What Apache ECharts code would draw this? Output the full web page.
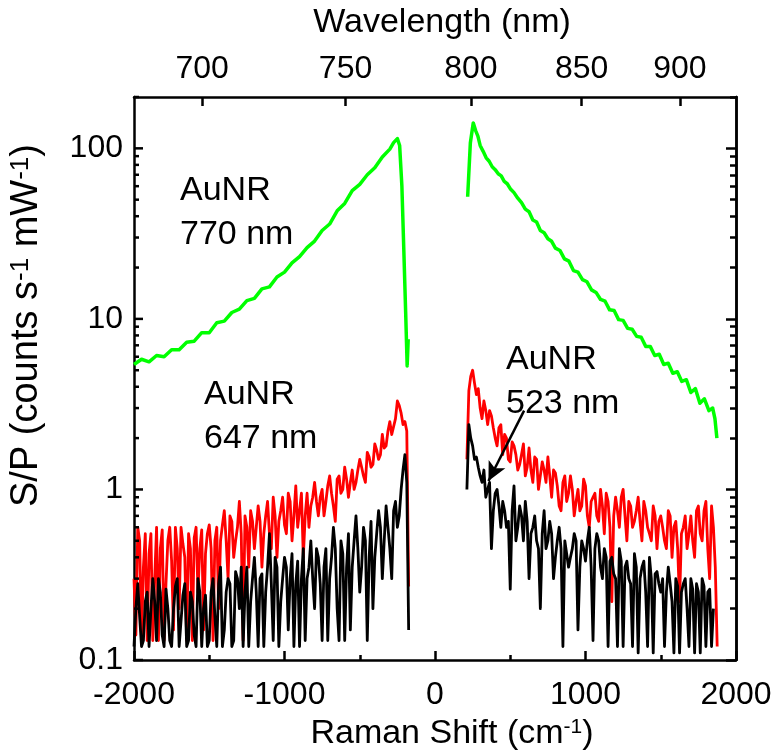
<!DOCTYPE html>
<html><head><meta charset="utf-8">
<script src="https://cdn.jsdelivr.net/npm/echarts@6/dist/echarts.min.js"></script>
<style>html,body{margin:0;padding:0;background:#fff}#c{width:777px;height:756px}</style>
</head><body><div id="c"></div><script>
const FONT = 'Liberation Sans, Arial, Helvetica, sans-serif';

// axis ticks / labels
const yMajorTicks = [0.1, 1, 10, 100];
const yMinorTicks = [0.2,0.3,0.4,0.5,0.6,0.7,0.8,0.9,2,3,4,5,6,7,8,9,20,30,40,50,60,70,80,90,200];
const wavelengthTicks = [700, 750, 800, 850, 900];
const excitationNm = 785;

// Raman-shift sample positions for the noisy red/black spectra
const leftGrid = [-2000,-1975,-1950,-1925,-1900,-1875,-1850,-1825,-1800,-1775,
-1750,-1725,-1700,-1675,-1650,-1625,-1600,-1575,-1550,-1525,
-1500,-1475,-1450,-1425,-1400,-1375,-1350,-1325,-1300,-1275,
-1250,-1225,-1200,-1175,-1150,-1125,-1100,-1075,-1050,-1025,
-1000,-975,-950,-925,-900,-875,-850,-825,-800,-775,
-750,-725,-700,-675,-650,-625,-600,-575,-550,-525,
-500,-475,-450,-425,-400,-375,-350,-325,-300,-275,
-250,-225,-200,-175];
const leftMid = [-1987.5,-1962.5,-1937.5,-1912.5,-1887.5,-1862.5,-1837.5,-1812.5,-1787.5,-1762.5,
-1737.5,-1712.5,-1687.5,-1662.5,-1637.5,-1612.5,-1587.5,-1562.5,-1537.5,-1512.5,
-1487.5,-1462.5,-1437.5,-1412.5,-1387.5,-1362.5,-1337.5,-1312.5,-1287.5,-1262.5,
-1237.5,-1212.5,-1187.5,-1162.5,-1137.5,-1112.5,-1087.5,-1062.5,-1037.5,-1012.5,
-987.5,-962.5,-937.5,-912.5,-887.5,-862.5,-837.5,-812.5,-787.5,-762.5,
-737.5,-712.5,-687.5,-662.5,-637.5,-612.5,-587.5,-562.5,-537.5,-512.5,
-487.5,-462.5,-437.5,-412.5,-387.5,-362.5,-337.5,-312.5,-287.5,-262.5,
-237.5,-212.5,-187.5];
const rightGrid = [212,225,250,275,300,325,350,375,400,425,
450,475,500,525,550,575,600,625,650,675,
700,725,750,775,800,825,850,875,900,925,
950,975,1000,1025,1050,1075,1100,1125,1150,1175,
1200,1225,1250,1275,1300,1325,1350,1375,1400,1425,
1450,1475,1500,1525,1550,1575,1600,1625,1650,1675,
1700,1725,1750,1775,1800,1825,1850,1875];
const rightMid = [237.5,262.5,287.5,312.5,337.5,362.5,387.5,412.5,437.5,462.5,
487.5,512.5,537.5,562.5,587.5,612.5,637.5,662.5,687.5,712.5,
737.5,762.5,787.5,812.5,837.5,862.5,887.5,912.5,937.5,962.5,
987.5,1012.5,1037.5,1062.5,1087.5,1112.5,1137.5,1162.5,1187.5,1212.5,
1237.5,1262.5,1287.5,1312.5,1337.5,1362.5,1387.5,1412.5,1437.5,1462.5,
1487.5,1512.5,1537.5,1562.5,1587.5,1612.5,1637.5,1662.5,1687.5,1712.5,
1737.5,1762.5,1787.5,1812.5,1837.5,1862.5];

// AuNR 647 nm (red)
const redLeft = [0.30,0.60,0.13,0.55,0.42,0.13,0.60,0.45,0.13,0.50,
0.38,0.60,0.20,0.48,0.13,0.45,0.52,0.25,0.58,0.42,
0.62,0.13,0.60,0.50,0.75,0.30,0.65,0.50,0.85,0.13,
0.60,0.75,0.45,0.80,0.35,0.70,0.55,0.90,0.40,0.75,
0.62,0.95,0.50,1.05,0.75,0.40,0.95,0.80,1.10,0.70,
1.00,0.85,1.20,0.80,1.15,0.95,1.35,0.90,1.30,1.10,
1.50,1.20,1.65,1.35,1.85,1.50,2.10,1.80,2.50,2.10,
3.30,2.80,2.50,0.27];
const redLeftMid = [0.14,0.5,0.35,0.13,0.55,0.3,0.13,0.58,0.28,0.6,
0.15,0.45,0.6,0.4,0.55,0.13,0.6,0.45,0.15,0.55,
0.45,0.5,0.2,0.62,0.5,0.7,0.4,0.6,0.55,0.7,
0.35,0.65,0.6,0.65,0.55,0.85,0.45,0.7,0.65,0.9,
0.55,0.85,0.7,0.6,0.95,0.7,0.6,0.9,0.85,0.9,
0.7,1.05,0.95,0.65,1.2,1.0,1.15,1.1,1.0,1.3,
1.35,1.1,1.55,1.4,1.7,1.6,1.75,2.2,2.1,2.6,
3.1,2.4,2.2];
const redRight = [1.5,3.8,5.0,3.6,3.0,3.3,2.4,2.7,2.0,2.3,
1.6,2.0,1.45,1.8,1.3,1.6,1.2,1.75,1.1,1.5,
1.0,1.3,1.55,0.9,1.25,0.8,1.1,0.85,1.2,0.7,
1.0,0.8,1.05,0.6,0.9,0.7,1.0,0.55,0.85,0.22,
0.9,0.6,1.0,0.5,0.8,0.65,0.9,0.5,0.75,0.55,
0.8,0.45,0.7,0.5,0.75,0.4,0.65,0.22,0.6,0.45,
0.7,0.4,0.8,0.5,0.85,0.3,0.6,0.12];
const redRightMid = [4.6,4.2,3.9,2.6,2.9,2.9,2.3,1.8,2.4,2.1,
1.5,1.9,1.6,1.4,1.85,1.35,1.3,1.55,1.0,1.45,
1.1,1.2,1.3,1.05,0.75,1.2,0.95,1.0,0.85,0.75,
1.15,0.7,0.85,0.95,0.65,0.8,0.95,0.6,0.7,0.75,
0.9,0.7,0.85,0.6,0.75,0.65,0.85,0.6,0.5,0.7,
0.65,0.6,0.45,0.7,0.6,0.45,0.55,0.7,0.55,0.5,
0.75,0.55,0.75,0.45,0.8,0.35];

// AuNR 523 nm (black)
const blackLeft = [0.12,0.28,0.12,0.22,0.12,0.30,0.13,0.25,0.12,0.20,
0.12,0.27,0.12,0.24,0.12,0.25,0.14,0.30,0.12,0.24,
0.13,0.30,0.12,0.35,0.15,0.30,0.12,0.33,0.20,0.12,
0.35,0.22,0.40,0.12,0.32,0.25,0.55,0.13,0.35,0.22,
0.40,0.15,0.42,0.28,0.12,0.45,0.30,0.50,0.20,0.40,
0.13,0.45,0.30,0.60,0.20,0.50,0.13,0.55,0.35,0.70,
0.25,0.60,0.13,0.65,0.40,0.75,0.30,0.80,0.45,0.75,
0.60,1.00,1.60,0.15];
const blackLeftMid = [0.2,0.18,0.13,0.25,0.2,0.22,0.3,0.14,0.26,0.13,
0.2,0.3,0.12,0.28,0.13,0.22,0.12,0.25,0.2,0.12,
0.25,0.18,0.28,0.12,0.25,0.28,0.13,0.3,0.35,0.25,
0.12,0.3,0.25,0.3,0.12,0.35,0.28,0.4,0.12,0.3,
0.35,0.3,0.12,0.38,0.3,0.13,0.35,0.3,0.45,0.28,
0.35,0.13,0.4,0.45,0.13,0.42,0.35,0.15,0.5,0.45,
0.35,0.5,0.4,0.2,0.55,0.6,0.5,0.6,0.3,0.85,
0.7,1.3,1.1];
const blackRight = [1.0,2.4,1.8,1.55,1.2,1.3,1.0,0.45,0.95,0.8,
0.85,0.6,0.26,1.05,0.6,0.7,0.85,0.3,0.6,0.5,
0.2,0.75,0.5,0.55,0.4,0.6,0.12,0.5,0.4,0.55,
0.15,0.5,0.38,0.6,0.13,0.55,0.35,0.45,0.12,0.4,
0.3,0.45,0.12,0.38,0.28,0.42,0.11,0.35,0.25,0.4,
0.11,0.33,0.25,0.12,0.35,0.22,0.3,0.11,0.28,0.2,
0.3,0.11,0.25,0.3,0.12,0.26,0.2,null];
const blackRightMid = [2.0,1.5,1.35,1.1,0.9,1.1,0.75,1.0,0.6,0.75,
0.65,0.75,0.5,0.8,0.5,0.65,0.55,0.7,0.45,0.55,
0.45,0.65,0.3,0.5,0.45,0.5,0.35,0.45,0.5,0.35,
0.45,0.5,0.35,0.45,0.5,0.3,0.4,0.38,0.32,0.12,
0.38,0.35,0.3,0.12,0.35,0.3,0.38,0.12,0.3,0.32,
0.28,0.3,0.25,0.28,0.11,0.27,0.25,0.3,0.12,0.26,
0.28,0.11,0.27,0.25,0.12,null];

// AuNR 770 nm (green)
const greenLeftX = [-2000,-1950,-1900,-1850,-1800,-1750,-1700,-1650,-1600,-1550,
-1500,-1450,-1400,-1350,-1300,-1250,-1200,-1150,-1100,-1050,
-1000,-950,-900,-850,-800,-750,-700,-650,-600,-550,
-500,-450,-400,-350,-300,-275,-250,-235,-220,-207,-195,-185,-178];
const greenLeftY = [5.4,5.8,5.6,6.1,6.0,6.6,6.6,7.3,7.4,8.3,
8.3,9.5,9.7,10.9,11.4,12.8,13.2,15.0,15.4,17.6,
18.8,21.3,23.2,26.2,28.6,33.0,36.0,43.0,47.5,56.5,
61.5,70,77,89,99,108,114,104,60,25,11,5.3,7.6];
const greenRightX = [217,235,254,270,285,300,320,340,360,380,400,420,440,460,480,500,
525,550,575,600,625,650,675,700,725,750,775,800,
830,860,890,920,950,980,1010,1040,1070,1100,1130,1160,1190,1220,1250,1280,1310,1340,1370,1400,
1430,1460,1490,1520,1550,1580,1610,1640,1670,1700,1730,1760,1790,1820,1845,1860,1873];
const greenRightY = [52,108,141,127,118,104,96,88,84,78,75,71,69,64,62,58,
55,51,48,44,42.5,38,37,33,32,29.5,28.5,26,
25.2,22.5,21.8,19.2,18.8,17,16.5,14.8,14.3,13.0,12.7,11.3,11.2,9.9,9.8,8.8,8.7,7.9,7.8,6.9,
6.9,6.1,6.2,5.4,5.5,4.8,4.9,4.3,4.4,3.7,3.9,3.2,3.4,2.9,3.0,2.6,2.0];

// annotation arrow (data coordinates: Raman shift, S/P)
const arrowTail = [592, 2.9];
const arrowHead = [355, 1.12];

const zip = (xs, ys) => xs.map((x, i) => [x, ys[i]]);
const merge = (xa, ya, xb, yb) => zip(xa, ya).concat(zip(xb, yb)).sort((p, q) => p[0] - q[0]);
const toShift = nm => 1e7 / excitationNm - 1e7 / nm;
const toNm = s => Math.round(1e7 / (1e7 / excitationNm - s));

const black = '#000';
const tickLine = { color: black, width: 2.5 };
const lineSeries = (name, data, color, width, z) => ({
  name, type: 'line', data, xAxisIndex: 0, yAxisIndex: 0, z,
  showSymbol: false, symbol: 'none', connectNulls: false, animation: false,
  lineStyle: { color, width, join: 'round' }, emphasis: { disabled: true }
});
const supRich = (big, small) => ({
  a: { fontSize: big, fontFamily: FONT, color: black },
  s: { fontSize: small, fontFamily: FONT, color: black, verticalAlign: 'top' }
});
const mainBox = { left: 128, right: 41, top: 97, bottom: 96, containLabel: false };
const yAxisBase = (gridIndex, position, ticks, len, showTick, showLabel, extra) => Object.assign({
  gridIndex, type: 'log', logBase: 10, min: 0.1, max: 200, position,
  axisLine: { show: true, onZero: false, lineStyle: tickLine },
  axisTick: { show: showTick, inside: true, length: len, customValues: ticks, lineStyle: tickLine },
  axisLabel: showLabel ? { show: true, customValues: yMajorTicks, margin: 11, fontSize: 32, fontFamily: FONT, color: black,
    formatter: v => String(+(+v).toPrecision(3)) } : { show: false },
  splitLine: { show: false }, minorTick: { show: false }
}, extra || {});

// left-frame ticks: [tick value, length in px], drawn at the frame through the axes' scales
const frameShift = -2000;
const leftTickRows = yMajorTicks.map(v => [v, 9]).concat(yMinorTicks.map(v => [v, 5]));

const chart = echarts.init(document.getElementById('c'), null, { renderer: 'canvas' });
chart.setOption({
  animation: false,
  backgroundColor: '#fff',
  grid: [mainBox, mainBox],
  xAxis: [
    {
      gridIndex: 0, type: 'value', min: -2000, max: 2000, interval: 1000, position: 'bottom',
      axisLine: { onZero: false, lineStyle: tickLine },
      axisTick: { inside: true, length: 9, lineStyle: tickLine },
      minorTick: { show: true, splitNumber: 2, length: 5, lineStyle: tickLine },
      axisLabel: { margin: 19, fontSize: 32, fontFamily: FONT, color: black, formatter: v => String(v) },
      splitLine: { show: false },
      name: '{a|Raman Shift (cm}{s|-1}{a|)}', nameLocation: 'middle', nameGap: 57,
      nameTextStyle: { rich: supRich(34, 21), padding: [0, 0, 0, 34] }
    },
    {
      gridIndex: 0, type: 'value', min: -2000, max: 2000, position: 'top',
      axisLine: { onZero: false, lineStyle: tickLine },
      axisTick: { inside: true, length: 9, customValues: wavelengthTicks.map(toShift), lineStyle: tickLine },
      axisLabel: { customValues: wavelengthTicks.map(toShift), margin: 12, fontSize: 32, fontFamily: FONT, color: black,
        formatter: v => String(toNm(v)) },
      splitLine: { show: false },
      name: 'Wavelength (nm)', nameLocation: 'middle', nameGap: 57,
      nameTextStyle: { fontSize: 34, fontFamily: FONT, color: black, padding: [0, 0, 0, 14] }
    },
    { gridIndex: 1, type: 'value', min: -2000, max: 2000, show: false }
  ],
  yAxis: [
    yAxisBase(0, 'left', yMajorTicks, 9, false, true, {
      name: '{a|S/P (counts s}{s|-1}{a| mW}{s|-1}{a|)}', nameLocation: 'middle', nameGap: 88,
      nameTextStyle: { rich: supRich(38, 26), padding: [0, 0, 0, 106] }
    }),
    yAxisBase(0, 'right', yMajorTicks.concat(yMinorTicks), 6, true, false),
    yAxisBase(1, 'right', yMajorTicks, 10, true, false)
  ],
  series: [
    lineSeries('AuNR 770 nm L', zip(greenLeftX, greenLeftY), '#00ff00', 3.5, 2),
    lineSeries('AuNR 770 nm R', zip(greenRightX, greenRightY), '#00ff00', 3.5, 2),
    lineSeries('AuNR 647 nm L', merge(leftGrid, redLeft, leftMid, redLeftMid), '#ff0000', 2.8, 3),
    lineSeries('AuNR 647 nm R', merge(rightGrid, redRight, rightMid, redRightMid), '#ff0000', 2.8, 3),
    lineSeries('AuNR 523 nm L', merge(leftGrid, blackLeft, leftMid, blackLeftMid), '#000000', 2.8, 4),
    Object.assign(lineSeries('AuNR 523 nm R', merge(rightGrid, blackRight, rightMid, blackRightMid), '#000000', 2.8, 4), {
      markLine: {
        silent: true, animation: false, symbol: ['none', 'arrow'], symbolSize: [14, 19],
        lineStyle: { color: black, width: 2.5, type: 'solid' }, label: { show: false },
        emphasis: { disabled: true },
        data: [[{ coord: arrowTail }, { coord: arrowHead }]]
      }
    }),
    {
      name: 'left frame ticks', type: 'custom', xAxisIndex: 0, yAxisIndex: 0,
      zlevel: 1, z: 50, silent: true, clip: false, animation: false,
      data: leftTickRows,
      encode: { x: -1, y: 0 },
      renderItem: (params, api) => {
        const p = api.coord([frameShift, api.value(0)]);
        return { type: 'line', shape: { x1: p[0], y1: p[1], x2: p[0] + api.value(1), y2: p[1] },
          style: { stroke: black, lineWidth: 2.5 } };
      }
    }
  ],
  graphic: [
    { type: 'text', left: 180, top: 169, z: 10, style: { text: 'AuNR\n770 nm', fontSize: 34, fontFamily: FONT, lineHeight: 44, fill: black } },
    { type: 'text', left: 204, top: 373, z: 10, style: { text: 'AuNR\n647 nm', fontSize: 34, fontFamily: FONT, lineHeight: 44, fill: black } },
    { type: 'text', left: 506, top: 338, z: 10, style: { text: 'AuNR\n523 nm', fontSize: 34, fontFamily: FONT, lineHeight: 44, fill: black } }
  ]
});
</script></body></html>
